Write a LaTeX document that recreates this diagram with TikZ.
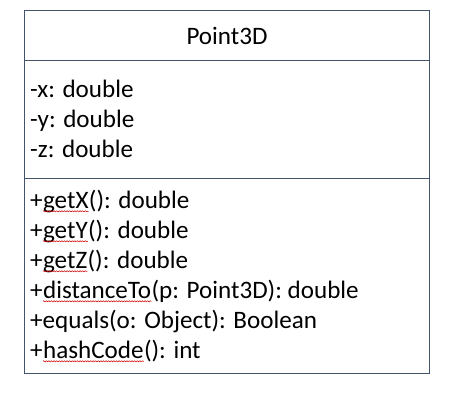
\documentclass[tikz,border=0pt]{standalone}
\usepackage{fontspec}
\setmainfont{Carlito}
\usetikzlibrary{positioning,decorations.pathmorphing}

\definecolor{frameblue}{HTML}{44546A}

\begin{document}
\begin{tikzpicture}[x=1pt, y=-1pt,
    font=\fontsize{25.1}{30}\selectfont,
    frame/.style={draw=frameblue, line width=1pt},
    txt/.style={anchor=base west, inner sep=0pt},
    squig/.style={draw=red!80!black, line width=0.5pt, decorate,
        decoration={snake, amplitude=0.6pt, segment length=2.6pt}}]
    \useasboundingbox (0,0) rectangle (475,394);

    % class box and its compartments
    \draw[frame] (24.5,10.5) rectangle (429.5,373);
    \draw[frame] (24.5,60.5) -- (429.5,60.5);
    \draw[frame] (24.5,178.5) -- (429.5,178.5);

    \node[anchor=base, inner sep=0pt] (name) at (227,44.3) {Point3D};

    % attributes
    \node[txt] (ax) at (30,97.7) {-x: double};
    \node[txt] (ay) at (30,127.7) {-y: double};
    \node[txt] (az) at (30,157.7) {-z: double};

    % operations
    \node[txt] (m1) at (30,208.3) {+};
    \node[txt] (m1w) at (m1.base east) {getX};
    \node[txt] (m1r) at (m1w.base east) {(): double};
    \node[txt] (m2) at (30,238.3) {+};
    \node[txt] (m2w) at (m2.base east) {getY};
    \node[txt] (m2r) at (m2w.base east) {(): double};
    \node[txt] (m3) at (30,268.3) {+};
    \node[txt] (m3w) at (m3.base east) {getZ};
    \node[txt] (m3r) at (m3w.base east) {(): double};
    \node[txt] (m4) at (30,298.3) {+};
    \node[txt] (m4w) at (m4.base east) {distanceTo};
    \node[txt] (m4r) at (m4w.base east) {(p: Point3D): double};
    \node[txt] (m5) at (30,328.3) {+equals(o: Object): Boolean};
    \node[txt] (m6) at (30,358.3) {+};
    \node[txt] (m6w) at (m6.base east) {hashCode};
    \node[txt] (m6r) at (m6w.base east) {(): int};

    % spell-check marks
    \foreach \w in {m1w,m2w,m3w,m4w,m6w}
        \draw[squig] ([yshift=-3pt]\w.base west) -- ([yshift=-3pt]\w.base east);
\end{tikzpicture}
\end{document}
